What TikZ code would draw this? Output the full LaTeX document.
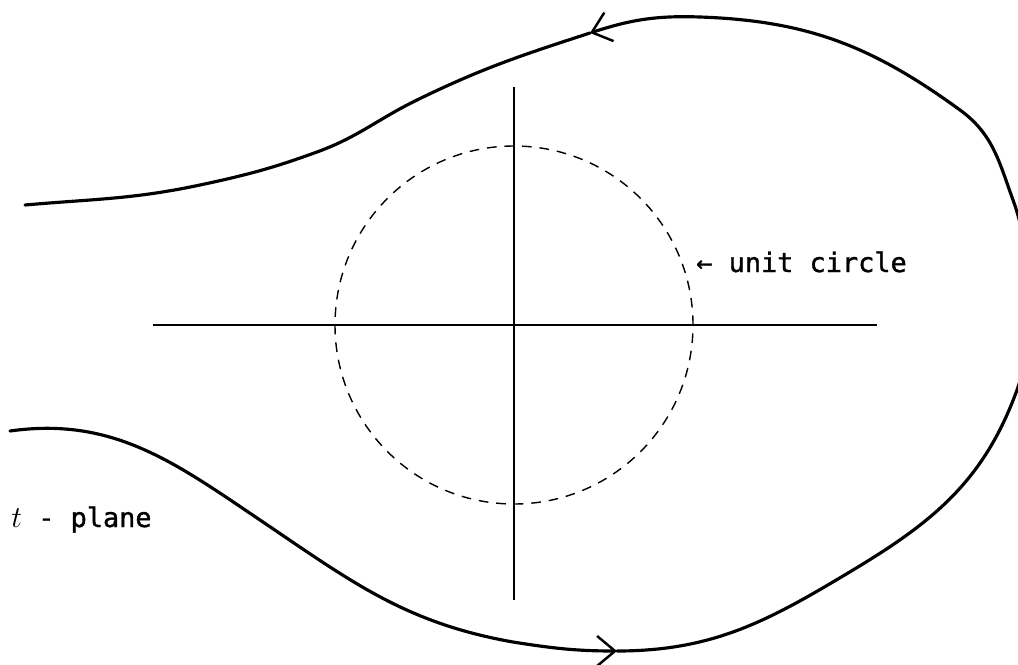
\documentclass[tikz,border=0pt]{standalone}
\usepackage{fontspec}
\newfontfamily\lblfont{DejaVu Sans Mono}[FakeBold=1.2]
\usetikzlibrary{arrows.meta}
\tikzset{
  axis/.style={line width=1.1pt},
  unitc/.style={line width=0.8pt, dash pattern=on 5.5pt off 4.5pt},
  barb/.tip={Straight Barb[length=3.6mm, width=6mm, line width=1.4pt]},
  contour/.style={line width=1.8pt, line cap=round, line join=round},
  lbl/.style={font=\lblfont\fontsize{15.3}{18}\selectfont, inner sep=0pt, anchor=base west}
}
\begin{document}
\begin{tikzpicture}[x=0.02cm, y=0.02cm]
\useasboundingbox (0,0) rectangle (1018,664);
\coordinate (o) at (514,339);
% axes
\draw[axis] (153,339) -- (877,339);
\draw[axis] (o |- 0,577) -- (o |- 0,64);
% unit circle
\draw[unitc] (o) circle[radius=179];
% the contour: lower branch out to the bottom arrow
\draw[contour, -{barb}] (10,233) to[out=8, in=146] (260,144) to[out=-34, in=170] (513,22)
  to[out=-9, in=180] (617,13);
% round the right side to the top arrow
\draw[contour, -{barb}] (617,13) to[out=0, in=211] (853,94) to[out=31, in=250] (1017,274)
  to[out=70, in=270] (1025,364) to[out=90, in=290] (1013,464) to[out=110, in=324] (960,554)
  to[out=144, in=-2] (700,647) to[out=178, in=18] (590,631);
% upper branch back to the left
\draw[contour] (590,631) to[out=198, in=26] (417,564) to[out=206, in=20] (317,512)
  to[out=200, in=12] (200,479) to[out=192, in=5] (25,459);
\node[lbl] (uc) at (696,392) {← unit circle};
\node[lbl] (tp) at (11,137) {{\fontsize{17}{18}\selectfont$t$} - plane};
\end{tikzpicture}
\end{document}
